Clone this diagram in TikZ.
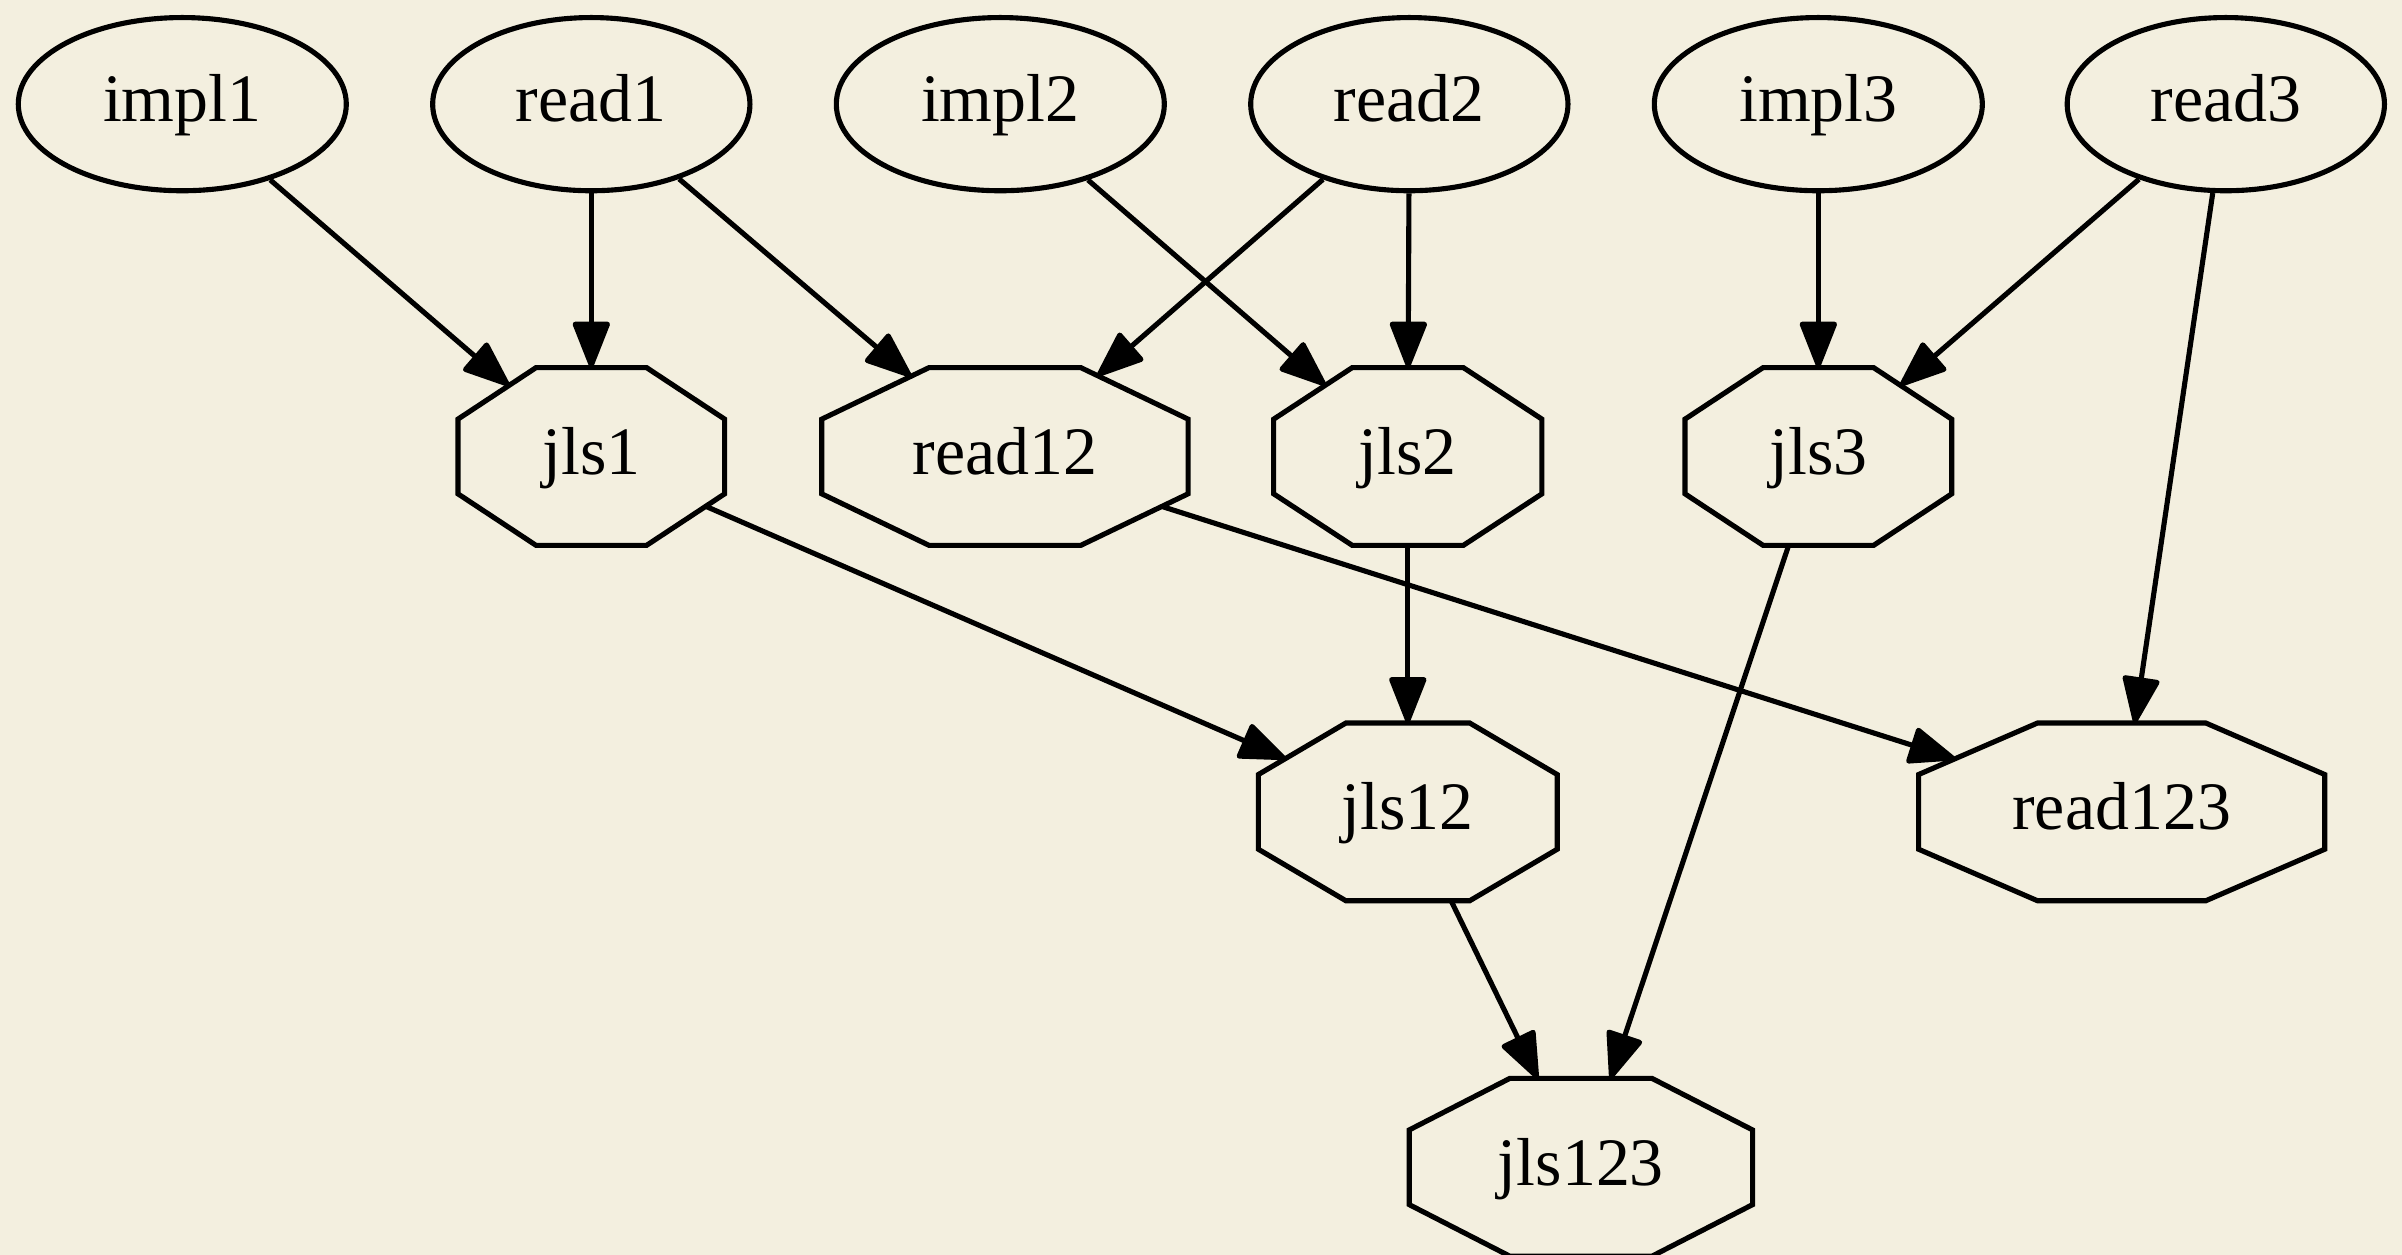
\documentclass[tikz,border=0pt]{standalone}
\usepackage{fontspec}
\setmainfont{Liberation Serif}
\usetikzlibrary{arrows.meta,shapes.geometric}
\definecolor{paper}{RGB}{243,239,223}

% stretched octagon, the box of a rectangle with its corners cut off
\makeatletter
\pgfdeclareshape{octbox}{%
  \inheritsavedanchors[from=rectangle]
  \inheritanchor[from=rectangle]{center}
  \inheritanchor[from=rectangle]{north}
  \inheritanchor[from=rectangle]{south}
  \inheritanchor[from=rectangle]{east}
  \inheritanchor[from=rectangle]{west}
  \backgroundpath{%
    \southwest \pgf@xa=\pgf@x \pgf@ya=\pgf@y
    \northeast \pgf@xb=\pgf@x \pgf@yb=\pgf@y
    \pgf@xc=\pgf@xb \advance\pgf@xc by-\pgf@xa \pgf@xc=0.293\pgf@xc
    \pgf@yc=\pgf@yb \advance\pgf@yc by-\pgf@ya \pgf@yc=0.29\pgf@yc
    \edef\oct@l{\the\pgf@xa}\edef\oct@r{\the\pgf@xb}%
    \edef\oct@b{\the\pgf@ya}\edef\oct@top{\the\pgf@yb}%
    \advance\pgf@xa by\pgf@xc \edef\oct@li{\the\pgf@xa}%
    \advance\pgf@xb by-\pgf@xc \edef\oct@ri{\the\pgf@xb}%
    \advance\pgf@ya by\pgf@yc \edef\oct@bi{\the\pgf@ya}%
    \advance\pgf@yb by-\pgf@yc \edef\oct@ti{\the\pgf@yb}%
    \pgfpathmoveto{\pgfqpoint{\oct@li}{\oct@top}}%
    \pgfpathlineto{\pgfqpoint{\oct@ri}{\oct@top}}%
    \pgfpathlineto{\pgfqpoint{\oct@r}{\oct@ti}}%
    \pgfpathlineto{\pgfqpoint{\oct@r}{\oct@bi}}%
    \pgfpathlineto{\pgfqpoint{\oct@ri}{\oct@b}}%
    \pgfpathlineto{\pgfqpoint{\oct@li}{\oct@b}}%
    \pgfpathlineto{\pgfqpoint{\oct@l}{\oct@bi}}%
    \pgfpathlineto{\pgfqpoint{\oct@l}{\oct@ti}}%
    \pgfpathclose
  }
  \anchorborder{%
    \pgf@process{\pgfpointnormalised{\pgfqpoint{\pgf@x}{\pgf@y}}}%
    \edef\oct@ux{\strip@pt\pgf@x}\edef\oct@uy{\strip@pt\pgf@y}%
    \southwest \pgf@xa=\pgf@x \pgf@ya=\pgf@y
    \northeast \pgf@xb=\pgf@x \pgf@yb=\pgf@y
    \pgf@xc=.5\pgf@xb \advance\pgf@xc by-.5\pgf@xa
    \pgf@yc=.5\pgf@yb \advance\pgf@yc by-.5\pgf@ya
    \edef\oct@A{\strip@pt\pgf@xc}\edef\oct@B{\strip@pt\pgf@yc}%
    \advance\pgf@xa by\pgf@xc \advance\pgf@ya by\pgf@yc
    \edef\oct@cx{\strip@pt\pgf@xa}\edef\oct@cy{\strip@pt\pgf@ya}%
    \pgfmathsetmacro\oct@ax{abs(\oct@ux)}%
    \pgfmathsetmacro\oct@ay{abs(\oct@uy)}%
    \pgfmathsetmacro\oct@len{min(\oct@B/max(\oct@ay,0.01),\oct@A/max(\oct@ax,0.01),
      0.826*\oct@A*\oct@B/(0.58*\oct@B*\oct@ax+0.586*\oct@A*\oct@ay))}%
    \pgfmathsetmacro\oct@px{\oct@cx+\oct@len*\oct@ux}%
    \pgfmathsetmacro\oct@py{\oct@cy+\oct@len*\oct@uy}%
    \pgf@x=\oct@px pt \pgf@y=\oct@py pt
  }
}
\makeatother

\tikzset{
  src/.style={draw, ellipse, inner sep=0pt, minimum height=1.13cm, minimum width=#1},
  oct/.style={draw, shape=octbox, inner sep=0pt, outer sep=0pt,
    minimum height=1.16cm, minimum width=#1},
  dep/.style={-{Triangle[length=3.3mm,width=2.5mm,round]}}
}

\begin{document}
\begin{tikzpicture}[x=0.01cm, y=-0.01cm, line width=0.95pt,
    font=\fontsize{12.6}{15}\selectfont, text height=0.662em, text depth=0pt]
		\fill[paper] (0,0) rectangle (1568,819);
		\useasboundingbox (0,0) rectangle (1568,819);
		% sources
		\node (impl1) [src=2.14cm] at (119,68) {impl1};
		\node (read1) [src=2.07cm] at (386,68) {read1};
		\node (impl2) [src=2.14cm] at (653,68) {impl2};
		\node (read2) [src=2.07cm] at (920,68) {read2};
		\node (impl3) [src=2.14cm] at (1187,68) {impl3};
		\node (read3) [src=2.07cm] at (1453,68) {read3};
		% jobs
		\node (jls1) [oct=1.74cm] at (386,298) {jls1};
		\node (read12) [oct=2.39cm] at (656,298) {read12};
		\node (jls2) [oct=1.75cm] at (919,298) {jls2};
		\node (jls3) [oct=1.74cm] at (1187,298) {jls3};
		\node (jls12) [oct=1.95cm] at (919,530) {jls12};
		\node (read123) [oct=2.65cm] at (1385,530) {read123};
		\node (jls123) [oct=2.24cm] at (1032,762) {jls123};
		% edges
		\path (impl1) edge [dep] (jls1);
		\path (read1) edge [dep] (jls1);
		\path (read1) edge [dep] (read12);
		\path (impl2) edge [dep] (jls2);
		\path (read2) edge [dep] (read12);
		\path (read2) edge [dep] (jls2);
		\path (impl3) edge [dep] (jls3);
		\path (read3) edge [dep] (jls3);
		\path (read3) edge [dep] (read123);
		\path (jls1) edge [dep] (jls12);
		\path (read12) edge [dep] (read123);
		\path (jls2) edge [dep] (jls12);
		\path (jls3) edge [dep] (jls123);
		\path (jls12) edge [dep] (jls123);
\end{tikzpicture}
\end{document}
